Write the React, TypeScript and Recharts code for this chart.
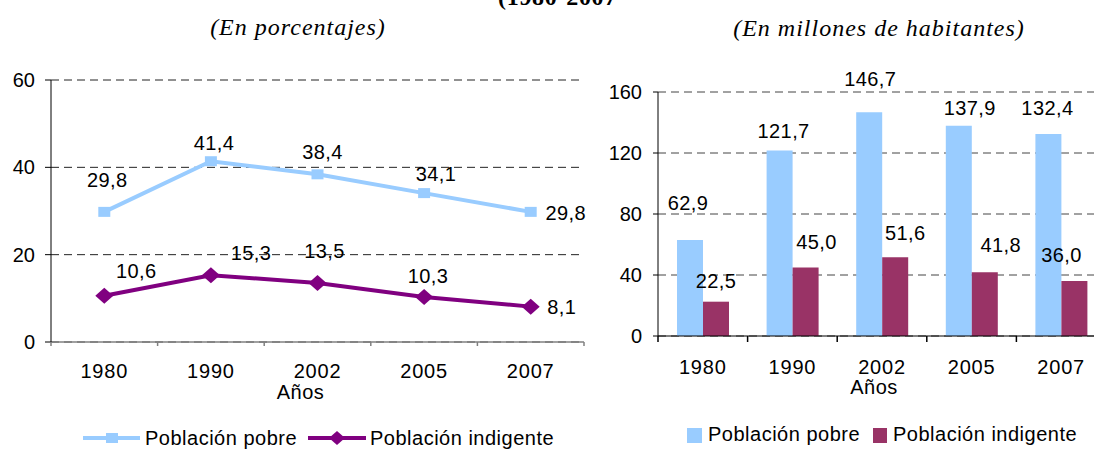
import { LineChart, Line, BarChart, Bar, XAxis, YAxis, CartesianGrid, LabelList } from 'recharts';

// ---- data ----
const years = ['1980', '1990', '2002', '2005', '2007'];
const pobrePct = [29.8, 41.4, 38.4, 34.1, 29.8];
const indigentePct = [10.6, 15.3, 13.5, 10.3, 8.1];
const pobreMill = [62.9, 121.7, 146.7, 137.9, 132.4];
const indigenteMill = [22.5, 45.0, 51.6, 41.8, 36.0];
const pctTicks = [0, 20, 40, 60];
const millTicks = [0, 40, 80, 120, 160];

const pctData = years.map((year, i) => ({ year, pobre: pobrePct[i], indigente: indigentePct[i] }));
const millData = years.map((year, i) => ({ year, pobre: pobreMill[i], indigente: indigenteMill[i] }));

// label placement (Excel style, label centre relative to the point / bar top)
const pobreLineOffsets = [[3, -32], [3, -18], [5, -22], [12, -19], [35, 1]];
const indigenteLineOffsets = [[32, -25], [40, -22], [7, -32], [4, -21], [31, 0]];
const pobreBarOffsets = [[-2, -37], [4, -19], [1, -33], [11, -18], [-1, -26]];
const indigenteBarOffsets = [[0, -21], [11, -25], [10, -24], [16, -27], [-13, -26]];

const SANS = "'Liberation Sans', Arial, sans-serif";
const SERIF = "'Liberation Serif', 'Times New Roman', serif";
const BLUE = '#99CCFF';
const PURPLE_LINE = '#800080';
const PURPLE_BAR = '#993366';

const fmt = (v: number) => v.toFixed(1).replace('.', ',');

const pickBox = (p: any) => {
  const vb = p.viewBox || {};
  return {
    x: typeof p.x === 'number' ? p.x : vb.x,
    y: typeof p.y === 'number' ? p.y : vb.y,
    width: typeof p.width === 'number' ? p.width : vb.width || 0,
  };
};

const renderPointLabel = (p: any, offsets: number[][], values: number[]) => {
  const { x, y } = pickBox(p);
  const i = p.index ?? 0;
  const [dx, dy] = offsets[i] || [0, -20];
  return (
    <text key={`pl-${i}`} x={x + dx} y={y + dy + 7} textAnchor="middle" fill="#000"
      fontSize={20} fontFamily={SANS} letterSpacing={0.4}>
      {fmt(values[i])}
    </text>
  );
};

const renderBarLabel = (p: any, offsets: number[][], values: number[]) => {
  const { x, y, width } = pickBox(p);
  const i = p.index ?? 0;
  const [dx, dy] = offsets[i] || [0, -20];
  return (
    <text key={`bl-${i}`} x={x + width / 2 + dx} y={y + dy + 7} textAnchor="middle" fill="#000"
      fontSize={20} fontFamily={SANS} letterSpacing={0.4}>
      {fmt(values[i])}
    </text>
  );
};

// x ticks: marks on category boundaries, label in the middle
const makeXTick = (half: number, tickLen: number, stroke: string, textDy: number) => (props: any) => {
  const { x, y, payload, index } = props;
  const h = payload && typeof payload.offset === 'number' && payload.offset > 0 ? payload.offset : half;
  return (
    <g key={`xt-${index}`}>
      <line x1={x - h} x2={x - h} y1={y} y2={y + tickLen} stroke={stroke} strokeWidth={1.5} />
      {index === years.length - 1 && (
        <line x1={x + h} x2={x + h} y1={y} y2={y + tickLen} stroke={stroke} strokeWidth={1.5} />
      )}
      <text x={x} y={y + textDy} textAnchor="middle" fill="#000" fontSize={20} fontFamily={SANS} letterSpacing={0.8}>
        {payload.value}
      </text>
    </g>
  );
};

const aniosLabel = (dx: number, dy: number) => (props: any) => {
  const vb = props.viewBox || {};
  return (
    <text x={vb.x + vb.width / 2 + dx} y={vb.y + dy} textAnchor="middle" fill="#000"
      fontSize={20} fontFamily={SANS} letterSpacing={0.5}>
      Años
    </text>
  );
};

const squareDot = (p: any) => (
  <rect key={`sq-${p.index}`} x={p.cx - 6} y={p.cy - 5} width={12} height={10} fill={BLUE} />
);

const diamondDot = (p: any) => (
  <path key={`dm-${p.index}`} d={`M${p.cx},${p.cy - 8} L${p.cx + 9},${p.cy} L${p.cx},${p.cy + 8} L${p.cx - 9},${p.cy} Z`}
    fill={PURPLE_LINE} />
);

function PctChart() {
  return (
    <LineChart width={600} height={452} data={pctData} margin={{ top: 80, right: 16, bottom: 50, left: 0 }}>
      <CartesianGrid vertical={false} stroke="#222" strokeDasharray="8 5" />
      <XAxis dataKey="year" scale="band" height={60} tickSize={0} tickMargin={0} tickLine={false} interval={0}
        axisLine={{ stroke: '#808080', strokeWidth: 1.5 }}
        tick={makeXTick(533 / 10, 4, '#808080', 36)}
        label={{ content: aniosLabel(-17, 57) } as any} />
      <YAxis width={51} domain={[0, 60]} ticks={pctTicks} interval={0} tickSize={6} tickMargin={10}
        axisLine={{ stroke: '#000' }} tickLine={{ stroke: '#000' }}
        tick={{ fill: '#000', fontSize: 20, fontFamily: SANS }} />
      <Line dataKey="pobre" stroke={BLUE} strokeWidth={4} dot={squareDot} activeDot={false}
        isAnimationActive={false}>
        <LabelList dataKey="pobre" content={(p: any) => renderPointLabel(p, pobreLineOffsets, pobrePct)} />
      </Line>
      <Line dataKey="indigente" stroke={PURPLE_LINE} strokeWidth={4} dot={diamondDot} activeDot={false}
        isAnimationActive={false}>
        <LabelList dataKey="indigente" content={(p: any) => renderPointLabel(p, indigenteLineOffsets, indigentePct)} />
      </Line>
    </LineChart>
  );
}

function MillChart() {
  return (
    <BarChart width={520} height={452} data={millData} margin={{ top: 92, right: 14, bottom: 56, left: 0 }}
      barGap={0}>
      <CartesianGrid vertical={false} stroke="#444" strokeDasharray="8 5" />
      <XAxis dataKey="year" height={60} tickSize={0} tickMargin={0} tickLine={false} interval={0}
        axisLine={{ stroke: '#000' }}
        tick={makeXTick(448 / 10, 6, '#000', 38)}
        label={{ content: aniosLabel(-8, 58) } as any} />
      <YAxis width={58} domain={[0, 160]} ticks={millTicks} interval={0} tickSize={5} tickMargin={11}
        axisLine={{ stroke: '#000' }} tickLine={{ stroke: '#000' }}
        tick={{ fill: '#000', fontSize: 20, fontFamily: SANS }} />
      <Bar dataKey="pobre" fill={BLUE} barSize={26} isAnimationActive={false}>
        <LabelList dataKey="pobre" content={(p: any) => renderBarLabel(p, pobreBarOffsets, pobreMill)} />
      </Bar>
      <Bar dataKey="indigente" fill={PURPLE_BAR} barSize={26} isAnimationActive={false}>
        <LabelList dataKey="indigente" content={(p: any) => renderBarLabel(p, indigenteBarOffsets, indigenteMill)} />
      </Bar>
    </BarChart>
  );
}

export default function App() {
  return (
    <div style={{ position: 'fixed', left: 0, top: 0, width: 1094, height: 452, overflow: 'hidden', background: '#fff' }}>
      <div style={{ position: 'absolute', left: 0, top: 0 }}>
        <PctChart />
      </div>
      <div style={{ position: 'absolute', left: 600, top: 0 }}>
        <MillChart />
      </div>
      <svg width={1094} height={452} style={{ position: 'absolute', left: 0, top: 0, pointerEvents: 'none' }}>
        {/* titles */}
        <text x={498} y={5} fontFamily={SERIF} fontWeight="bold" fontSize={24} letterSpacing={0.7}>(1980-2007</text>
        <text x={298} y={35} textAnchor="middle" fontFamily={SERIF} fontStyle="italic" fontSize={24} letterSpacing={1}>
          (En porcentajes)
        </text>
        <text x={879} y={36} textAnchor="middle" fontFamily={SERIF} fontStyle="italic" fontSize={24} letterSpacing={1}>
          (En millones de habitantes)
        </text>

        {/* legend, line chart */}
        <line x1={83} x2={140} y1={438} y2={438} stroke={BLUE} strokeWidth={4} />
        <rect x={106} y={433} width={12} height={10} fill={BLUE} />
        <text x={145} y={445} fontFamily={SANS} fontSize={20} letterSpacing={0.5}>Población pobre</text>
        <line x1={308} x2={366} y1={438} y2={438} stroke={PURPLE_LINE} strokeWidth={4} />
        <path d="M337,431 L345,438 L337,445 L329,438 Z" fill={PURPLE_LINE} />
        <text x={370} y={445} fontFamily={SANS} fontSize={20} letterSpacing={0.5}>Población indigente</text>

        {/* legend, bar chart */}
        <rect x={687} y={428} width={15} height={15} fill={BLUE} />
        <text x={708} y={441} fontFamily={SANS} fontSize={20} letterSpacing={0.5}>Población pobre</text>
        <rect x={873} y={428} width={14} height={15} fill={PURPLE_BAR} />
        <text x={893} y={441} fontFamily={SANS} fontSize={20} letterSpacing={0.5}>Población indigente</text>
      </svg>
    </div>
  );
}
